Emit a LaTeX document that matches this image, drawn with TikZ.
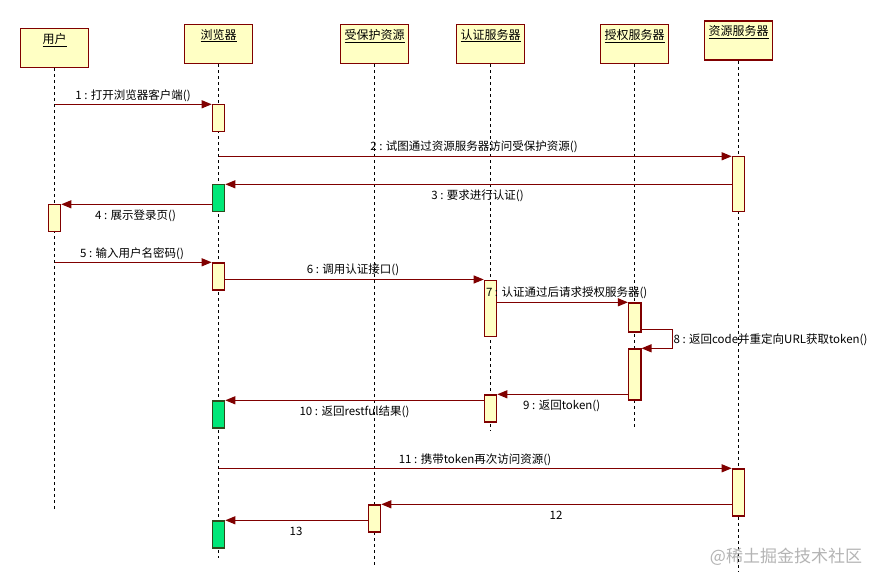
\documentclass[tikz,border=0pt]{standalone}
\usepackage{fontspec}
\setmainfont{Noto Sans CJK SC}
\usetikzlibrary{arrows.meta}
\definecolor{umlred}{HTML}{800000}
\definecolor{umlyellow}{HTML}{FFFFC4}
\definecolor{umlgreen}{HTML}{00E878}
\definecolor{umlgreenline}{HTML}{2F4A1C}
\definecolor{wmgray}{HTML}{B4B4B4}
\tikzset{
  head/.style={draw=umlred, line width=1.3pt, fill=umlyellow, minimum width=68pt, minimum height=39pt, inner sep=0pt},
  headtitle/.style={anchor=north, inner sep=0pt, yshift=-5pt, font=\fontsize{12}{14}\selectfont},
  life/.style={draw=black, line width=0.9pt, dash pattern=on 3pt off 3pt},
  bar/.style={draw=umlred, line width=1.2pt, fill=umlyellow, minimum width=12.4pt, inner sep=0pt, anchor=north},
  gbar/.style={draw=umlgreenline, line width=1.2pt, fill=umlgreen, minimum width=12.4pt, inner sep=0pt, anchor=north},
  msg/.style={draw=umlred, line width=1.1pt, -{Triangle[length=10pt,width=8pt]}, color=umlred},
  mlabel/.style={inner sep=0pt, font=\fontsize{11.5}{13}\selectfont, text=black},
}
\begin{document}
\begin{tikzpicture}[x=1pt,y=-1pt]
\useasboundingbox (0,0) rectangle (885,585);
\fill[white] (0,0) rectangle (885,585);
% lifeline ends
\coordinate (uend) at (54.5,509);
\coordinate (bend) at (218.5,558);
\coordinate (pend) at (374.5,565);
\coordinate (aend) at (490.5,431);
\coordinate (zend) at (634.7,427);
\coordinate (rend) at (738.5,572);
% heads
\node[head, anchor=north, label={[headtitle]north:\underline{用户}}] (uh) at (54.5,28) {};
\node[head, anchor=north, label={[headtitle]north:\underline{浏览器}}] (bh) at (218.5,24) {};
\node[head, anchor=north, label={[headtitle]north:\underline{受保护资源}}] (ph) at (374.5,24) {};
\node[head, anchor=north, label={[headtitle]north:\underline{认证服务器}}] (ah) at (490.5,24) {};
\node[head, anchor=north, label={[headtitle]north:\underline{授权服务器}}] (zh) at (634.7,24) {};
\node[head, anchor=north, label={[headtitle]north:\underline{资源服务器}}] (rh) at (738.5,20.5) {};
% lifelines
\draw[life] (uh.south) -- (uend);
\draw[life] (bh.south) -- (bend);
\draw[life] (ph.south) -- (pend);
\draw[life] (ah.south) -- (aend);
\draw[life] (zh.south) -- (zend);
\draw[life] (rh.south) -- (rend);
% activation bars
\node[bar, minimum height=27pt] (bb1) at (218.5,104.3) {};
\node[bar, minimum height=55pt] (rb1) at (738.5,156.3) {};
\node[gbar, minimum height=27pt] (gb1) at (218.5,184.3) {};
\node[bar, minimum height=27pt] (ub1) at (54.5,204.3) {};
\node[bar, minimum height=27pt] (bb2) at (218.5,262.3) {};
\node[bar, minimum height=56pt] (ab1) at (490.5,279.5) {};
\node[bar, minimum height=29pt] (zb1) at (634.7,302.3) {};
\node[bar, minimum height=51pt] (zb2) at (634.7,348.3) {};
\node[bar, minimum height=27pt] (ab2) at (490.5,394.3) {};
\node[gbar, minimum height=27pt] (gb2) at (218.5,400.3) {};
\node[bar, minimum height=47pt] (rb2) at (738.5,468.3) {};
\node[bar, minimum height=27pt] (pb1) at (374.5,504.3) {};
\node[gbar, minimum height=27pt] (gb3) at (218.5,520.3) {};
% messages
\draw[msg] (bb1.north west -| uh.south) -- (bb1.north west);
\draw[msg] (rb1.north west -| bh.south) -- (rb1.north west);
\draw[msg] (gb1.north east -| rb1.west) -- (gb1.north east);
\draw[msg] (ub1.north east -| gb1.west) -- (ub1.north east);
\draw[msg] (bb2.north west -| uh.south) -- (bb2.north west);
\draw[msg] (ab1.north west -| bb2.east) -- (ab1.north west);
\draw[msg] (zb1.north west -| ab1.east) -- (zb1.north west);
\draw[msg] ([yshift=3pt]zb1.south east) -- ++(30.6,0) |- (zb2.north east);
\draw[msg] (ab2.north east -| zb2.west) -- (ab2.north east);
\draw[msg] (gb2.north east -| ab2.west) -- (gb2.north east);
\draw[msg] (rb2.north west -| bh.south) -- (rb2.north west);
\draw[msg] (pb1.north east -| rb2.west) -- (pb1.north east);
\draw[msg] (gb3.north east -| pb1.west) -- (gb3.north east);
% labels
\node[mlabel] (l1) at (133,96) {1 : 打开浏览器客户端()};
\node[mlabel] (l2) at (474,146.7) {2 : 试图通过资源服务器访问受保护资源()};
\node[mlabel] (l3) at (477.5,195.3) {3 : 要求进行认证()};
\node[mlabel] (l4) at (135.5,216) {4 : 展示登录页()};
\node[mlabel] (l5) at (132,253.7) {5 : 输入用户名密码()};
\node[mlabel] (l6) at (353,270.3) {6 : 调用认证接口()};
\node[mlabel] (l7) at (566.7,292.7) {7 : 认证通过后请求授权服务器()};
\node[mlabel] (l8) at (770.5,339.3) {8 : 返回code并重定向URL获取token()};
\node[mlabel] (l9) at (561.7,405.7) {9 : 返回token()};
\node[mlabel] (l10) at (354.5,411.7) {10 : 返回restful结果()};
\node[mlabel] (l11) at (475,460) {11 : 携带token再次访问资源()};
\node[mlabel] (l12) at (556,515.3) {12};
\node[mlabel] (l13) at (296,531) {13};
% watermark
\node[inner sep=0pt, font=\fontsize{17}{19}\selectfont, text=wmgray] (wm) at (786,556.7) {@稀土掘金技术社区};
\end{tikzpicture}
\end{document}
